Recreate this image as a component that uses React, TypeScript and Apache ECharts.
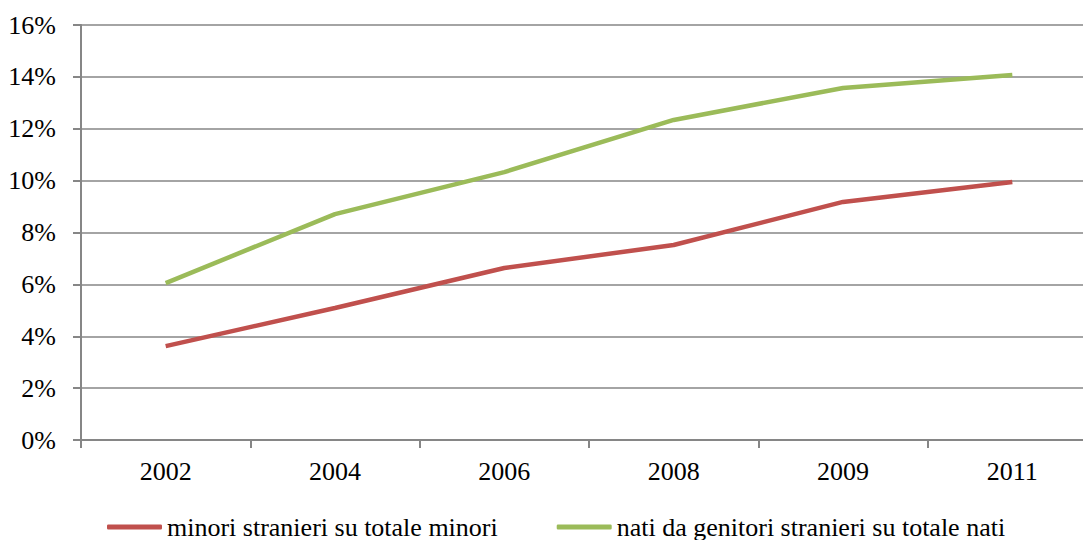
import React, { useEffect, useRef } from "react";
import * as echarts from "echarts";

const categories = ["2002", "2004", "2006", "2008", "2009", "2011"];
const minoriStranieri = [3.62, 5.09, 6.63, 7.52, 9.18, 9.95];
const natiGenitoriStranieri = [6.05, 8.71, 10.33, 12.34, 13.57, 14.07];
const seriesNames = [
  "minori stranieri su totale minori",
  "nati da genitori stranieri su totale nati",
];

export default function App() {
  const ref = useRef<HTMLDivElement>(null);
  useEffect(() => {
    if (!ref.current) return;
    const chart = echarts.init(ref.current, undefined, { renderer: "svg" });
    const font = "Liberation Serif";
    chart.setOption({
      animation: false,
      backgroundColor: "#ffffff",
      textStyle: { fontFamily: font },
      grid: {
        left: 81,
        width: 1016,
        top: 25,
        height: 415,
        containLabel: false,
        outerBoundsMode: "none",
      },
      legend: {
        top: 514,
        left: 107,
        padding: 0,
        itemWidth: 55,
        itemHeight: 5,
        itemGap: 59,
        icon: "roundRect",
        textStyle: { fontFamily: font, fontSize: 26, color: "#000" },
        data: seriesNames,
      },
      xAxis: {
        type: "category",
        data: categories,
        boundaryGap: true,
        axisLine: { lineStyle: { color: "#868686", width: 2 } },
        axisTick: { show: true, length: 8, lineStyle: { color: "#868686", width: 2 } },
        axisLabel: { fontFamily: font, fontSize: 26, color: "#000", margin: 18 },
      },
      yAxis: {
        type: "value",
        min: 0,
        max: 16,
        interval: 2,
        axisLine: { show: true, lineStyle: { color: "#868686", width: 2 } },
        axisTick: { show: true, length: 8, lineStyle: { color: "#868686", width: 2 } },
        splitLine: { show: true, lineStyle: { color: "#868686", width: 1.5 } },
        axisLabel: {
          fontFamily: font,
          fontSize: 26,
          color: "#000",
          margin: 25,
          formatter: (v: number) => v + "%",
        },
      },
      series: [
        {
          name: seriesNames[0],
          type: "line",
          data: minoriStranieri,
          showSymbol: false,
          symbol: "none",
          lineStyle: { color: "#C0504D", width: 4.5 },
          itemStyle: { color: "#C0504D" },
        },
        {
          name: seriesNames[1],
          type: "line",
          data: natiGenitoriStranieri,
          showSymbol: false,
          symbol: "none",
          lineStyle: { color: "#9BBB59", width: 4.5 },
          itemStyle: { color: "#9BBB59" },
        },
      ],
    });
    return () => chart.dispose();
  }, []);
  return (
    <div
      ref={ref}
      style={{ position: "fixed", left: 0, top: 0, width: 1083, height: 540 }}
    />
  );
}
